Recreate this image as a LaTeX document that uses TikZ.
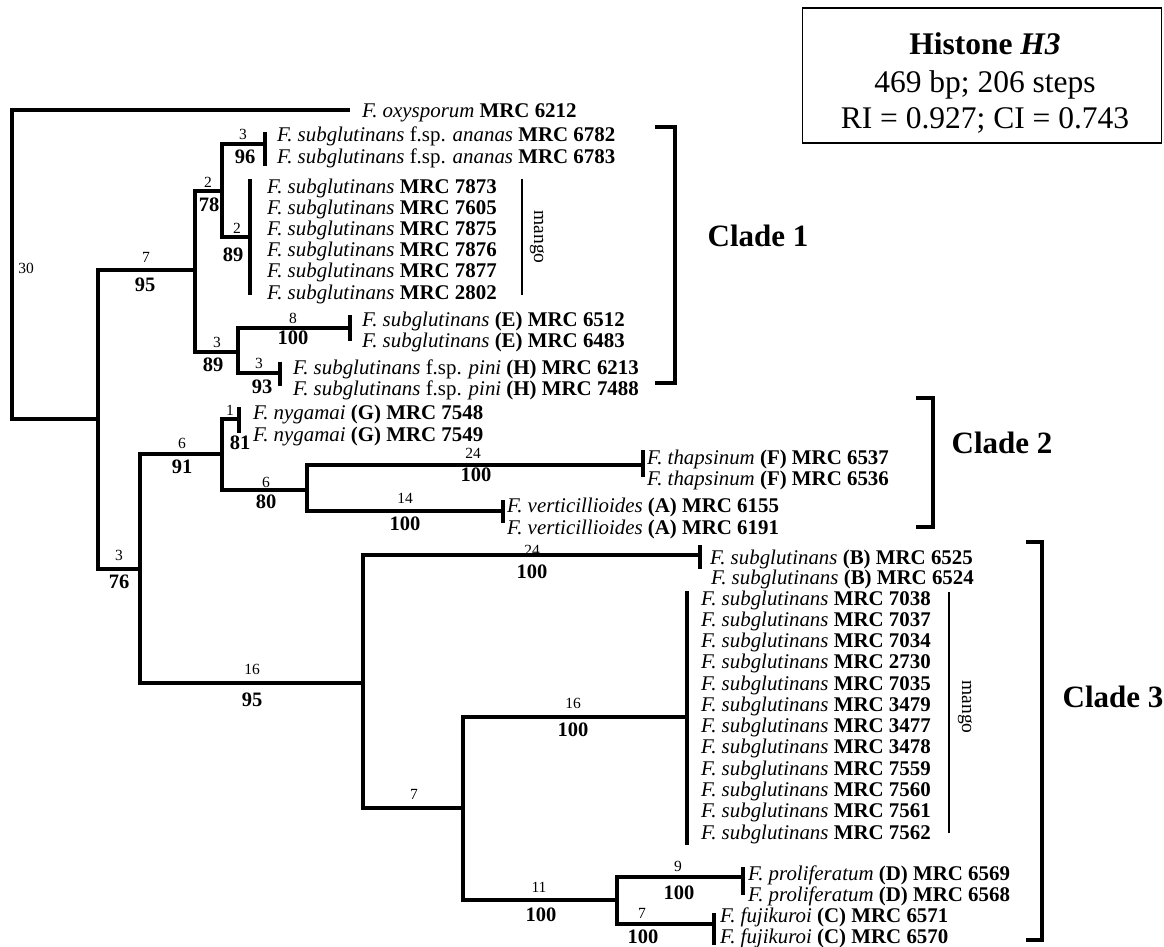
\documentclass[tikz,border=0pt]{standalone}
\usepackage{fontspec}
\setmainfont{Liberation Serif}
\usepackage{tikz}
\newcommand{\sg}{\textit{F. subglutinans}}
\newcommand{\mrc}[1]{\textbf{MRC #1}}

\begin{document}
\begin{tikzpicture}[x=1pt,y=-1pt,
  branch/.style={line width=3.1pt},
  tipbar/.style={line width=3.1pt},
  bracket/.style={line width=4.8pt,line join=miter},
  grpline/.style={line width=1.8pt},
  taxon/.style={anchor=base west,inner sep=0pt,font=\fontsize{20.9}{22}\selectfont},
  steps/.style={inner sep=0pt,font=\fontsize{15.5}{17}\selectfont},
  boot/.style={inner sep=0pt,font=\fontsize{20.5}{22}\selectfont\bfseries},
  clade/.style={inner sep=0pt,font=\fontsize{31}{36}\selectfont\bfseries},
  boxtxt/.style={anchor=base,inner sep=0pt,font=\fontsize{31.5}{36}\selectfont}]
  \useasboundingbox (0,0) rectangle (1164,946);

  % internal nodes (x = vertical line of the node)
  \coordinate (r)  at (12,264);
  \coordinate (a)  at (98,419);
  \coordinate (c1) at (195,270);
  \coordinate (n2) at (222,191);
  \coordinate (n3) at (238,352);
  \coordinate (b)  at (140,569);
  \coordinate (c2) at (222,454);
  \coordinate (n4) at (307,490);
  \coordinate (c3) at (363,683);
  \coordinate (n5) at (463,808);
  \coordinate (n6) at (617,900);
  % tips (end of the branch)
  \coordinate (ox)  at (350,110);
  \coordinate (ana) at (265,144);
  \coordinate (mg1) at (250,237);
  \coordinate (e)   at (350,328);
  \coordinate (pin) at (280,373);
  \coordinate (ny)  at (239,419);
  \coordinate (th)  at (643,465);
  \coordinate (ve)  at (503,511);
  \coordinate (bb)  at (700,555);
  \coordinate (mg2) at (687,717);
  \coordinate (pr)  at (743,877);
  \coordinate (fu)  at (714,924);

  % branches parent -> child
  \foreach \p/\c in {r/ox,r/a,a/c1,a/b,c1/n2,c1/n3,n2/ana,n2/mg1,n3/e,n3/pin,
                     b/c2,b/c3,c2/ny,c2/n4,n4/th,n4/ve,c3/bb,c3/n5,n5/mg2,n5/n6,
                     n6/pr,n6/fu}
    \draw[branch] (\p) |- (\c);
  % tip bars: extent above / below the branch
  \foreach \c/\t/\d in {ana/12/22,mg1/58/58,e/13/13,pin/11/13,ny/12/14,th/15/12,
                        ve/11/12,bb/10/14,mg2/126/128,pr/10/18,fu/11/21}
    \draw[tipbar] ([yshift=\t pt]\c) -- ([yshift=-\d pt]\c);

  % taxa
  \node[taxon] (t-ox) at (362,117) {\textit{F. oxysporum} \mrc{6212}};
  \node[taxon] (t-a1) at (277,141) {\sg{} f.sp. \textit{ananas} \mrc{6782}};
  \node[taxon] (t-a2) at (277,163) {\sg{} f.sp. \textit{ananas} \mrc{6783}};
  \foreach \n [count=\k from 0] in {7873,7605,7875,7876,7877,2802}
    \node[taxon] (t-m1-\k) at (267,{193+21.2*\k}) {\sg{} \mrc{\n}};
  \node[taxon] (t-e1) at (362,326) {\sg{} \textbf{(E)} \mrc{6512}};
  \node[taxon] (t-e2) at (362,347) {\sg{} \textbf{(E)} \mrc{6483}};
  \node[taxon] (t-h1) at (293,374) {\sg{} f.sp. \textit{pini} \textbf{(H)} \mrc{6213}};
  \node[taxon] (t-h2) at (293,395) {\sg{} f.sp. \textit{pini} \textbf{(H)} \mrc{7488}};
  \node[taxon] (t-g1) at (253,419) {\textit{F. nygamai} \textbf{(G)} \mrc{7548}};
  \node[taxon] (t-g2) at (253,441) {\textit{F. nygamai} \textbf{(G)} \mrc{7549}};
  \node[taxon] (t-f1) at (647,464) {\textit{F. thapsinum} \textbf{(F)} \mrc{6537}};
  \node[taxon] (t-f2) at (647,485) {\textit{F. thapsinum} \textbf{(F)} \mrc{6536}};
  \node[taxon] (t-v1) at (507,512) {\textit{F. verticillioides} \textbf{(A)} \mrc{6155}};
  \node[taxon] (t-v2) at (507,534) {\textit{F. verticillioides} \textbf{(A)} \mrc{6191}};
  \node[taxon] (t-b1) at (710,564) {\sg{} \textbf{(B)} \mrc{6525}};
  \node[taxon] (t-b2) at (711,584) {\sg{} \textbf{(B)} \mrc{6524}};
  \foreach \n [count=\k from 0] in {7038,7037,7034,2730,7035,3479,3477,3478,7559,7560,7561,7562}
    \node[taxon] (t-m2-\k) at (701,{605+21.28*\k}) {\sg{} \mrc{\n}};
  \node[taxon] (t-d1) at (748,880) {\textit{F. proliferatum} \textbf{(D)} \mrc{6569}};
  \node[taxon] (t-d2) at (748,901) {\textit{F. proliferatum} \textbf{(D)} \mrc{6568}};
  \node[taxon] (t-c1) at (720,922) {\textit{F. fujikuroi} \textbf{(C)} \mrc{6571}};
  \node[taxon] (t-c2) at (720,943) {\textit{F. fujikuroi} \textbf{(C)} \mrc{6570}};

  % mango groups
  \draw[grpline] (522,179) -- (522,295);
  \node[rotate=-90,inner sep=0pt,font=\fontsize{19.5}{21}\selectfont] (mgl1) at (537,237) {mango};
  \draw[grpline] (949,592) -- (949,833);
  \node[rotate=-90,inner sep=0pt,font=\fontsize{19.5}{21}\selectfont] (mgl2) at (965,707) {mango};

  % steps above, bootstrap below
  \foreach \x/\y/\v [count=\i] in {26/268/30,146/257/7,208/182/2,243/134/3,237/228/2,
      217/342/3,293/318/8,259/363/3,119/555/3,182/443/6,230/410/1,266/482/6,
      473/453/24,405/498/14,252/669/16,532/550/24,414/794/7,573/703/16,
      539/887/11,678/866/9,642/913/7}
    \node[steps] (s\i) at (\x,\y) {\v};
  \foreach \x/\y/\v [count=\i] in {145/285/95,209/205/78,245/157/96,233/255/89,
      213/365/89,293/338/100,262/387/93,119/582/76,182/467/91,240/443/81,
      266/502/80,476/475/100,405/524/100,252/700/95,532/572/100,573/730/100,
      541/915/100,679/893/100,643/937/100}
    \node[boot] (bs\i) at (\x,\y) {\v};

  % clades
  \draw[bracket] (655,127) -- (675,127) -- (675,383) -- (655,383);
  \node[clade] (cl1) at (758,236) {Clade 1};
  \draw[bracket] (916,398) -- (933,398) -- (933,527) -- (916,527);
  \node[clade] (cl2) at (1002,443) {Clade 2};
  \draw[bracket] (1026,542) -- (1042,542) -- (1042,940) -- (1026,940);
  \node[clade] (cl3) at (1113,697) {Clade 3};

  % info box
  \node[draw,line width=1.8pt,minimum width=359pt,minimum height=135pt,inner sep=0pt] (box) at (982,75.5) {};
  \node[boxtxt] (hd) at (985,54) {\textbf{Histone \textit{H3}}};
  \node[boxtxt] (len) at (985,92) {469 bp; 206 steps};
  \node[boxtxt] (idx) at (985,128) {RI = 0.927; CI = 0.743};
\end{tikzpicture}
\end{document}
